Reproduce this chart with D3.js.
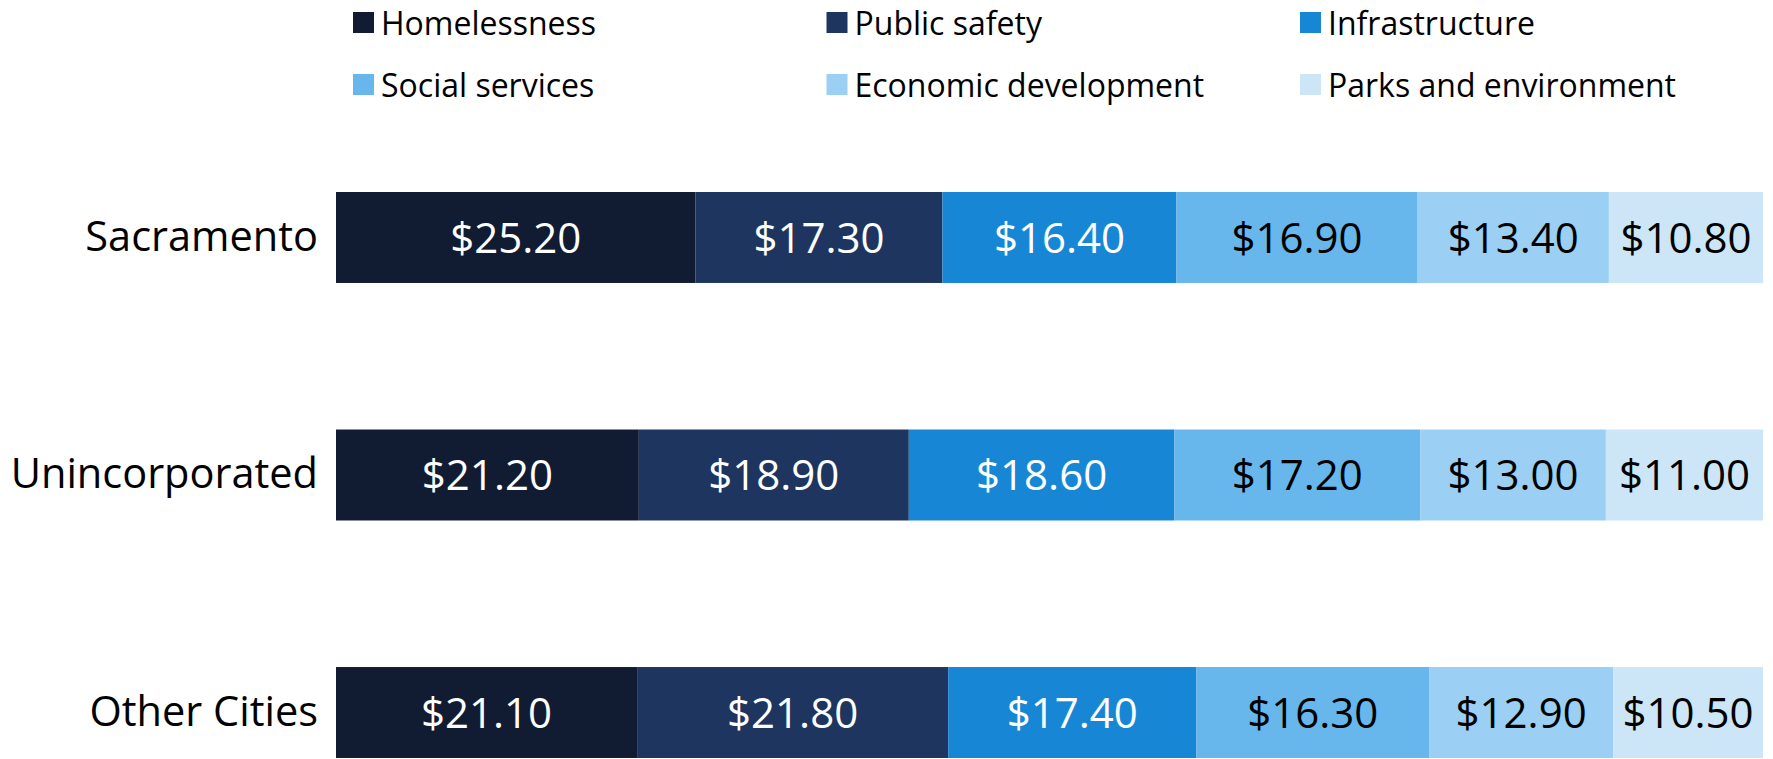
<!DOCTYPE html>
<html>
<head>
<meta charset="utf-8">
<script src="https://cdn.jsdelivr.net/npm/d3@7"></script>
<style>
    body { margin: 0; background: #fff; }
    svg { display: block; font-family: "Open Sans", sans-serif; }
</style>
</head>
<body>
<script>
"use strict";

const categories = ["Sacramento", "Unincorporated", "Other Cities"]
const seriesNames = ["Homelessness", "Public safety", "Infrastructure", "Social services", "Economic development", "Parks and environment"]

const homelessness = [25.2, 21.2, 21.1]
const publicSafety = [17.3, 18.9, 21.8]
const infrastructure = [16.4, 18.6, 17.4]
const socialServices = [16.9, 17.2, 16.3]
const economicDevelopment = [13.4, 13.0, 12.9]
const parksEnvironment = [10.8, 11.0, 10.5]

const seriesValues = [homelessness, publicSafety, infrastructure, socialServices, economicDevelopment, parksEnvironment]
const colors = ["#111c33", "#1e3560", "#1787d5", "#67b7ed", "#9bcff4", "#cce6f8"]
const labelColors = ["#fff", "#fff", "#fff", "#000", "#000", "#000"]

const measurements = {
    width: 1773,
    height: 759,
    plotLeft: 336,
    plotRight: 1763,
    plotTop: 192,
    plotBottom: 758
}

// rows for d3.stack
const rows = categories.map((c, i) => {
    let row = { category: c }
    seriesNames.forEach((s, j) => row[s] = seriesValues[j][i])
    return row
})

const stacked = d3.stack()
    .keys(seriesNames)
    .offset(d3.stackOffsetExpand)(rows)

const svg = d3.select("body").append("svg")
    .attr("width", measurements.width)
    .attr("height", measurements.height)

const x = d3.scaleLinear()
    .domain([0, 1])
    .range([measurements.plotLeft, measurements.plotRight])

const y = d3.scaleBand()
    .domain(categories)
    .range([measurements.plotTop, measurements.plotBottom])
    .paddingInner(0.617)
    .paddingOuter(0)

const color = d3.scaleOrdinal().domain(seriesNames).range(colors)

// bars
const layers = svg.selectAll(".layer")
    .data(stacked)
    .enter()
    .append("g")
        .attr("class", "layer")
        .attr("fill", d => color(d.key))

layers.selectAll("rect")
    .data(d => d)
    .enter()
    .append("rect")
        .attr("x", d => x(d[0]))
        .attr("y", d => y(d.data.category))
        .attr("width", d => x(d[1]) - x(d[0]))
        .attr("height", y.bandwidth())

// value labels
layers.each(function(layer, li) {
    d3.select(this).selectAll("text")
        .data(layer)
        .enter()
        .append("text")
            .attr("x", d => (x(d[0]) + x(d[1])) / 2)
            .attr("y", d => y(d.data.category) + y.bandwidth() / 2)
            .attr("dy", "0.36em")
            .attr("text-anchor", "middle")
            .attr("fill", labelColors[li])
            .style("font-size", "42px")
            .text(d => "$" + d.data[layer.key].toFixed(2))
})

// category axis
const yAxis = d3.axisLeft(y).tickSize(0).tickPadding(18)
const yG = svg.append("g")
    .attr("transform", "translate(" + measurements.plotLeft + ",0)")
    .call(yAxis)
yG.select(".domain").remove()
yG.selectAll("text")
    .style("font-size", "41.5px")
    .style("font-family", "'Open Sans', sans-serif")
    .attr("fill", "#000")

// legend
const legend = svg.selectAll(".legend")
    .data(seriesNames)
    .enter()
    .append("g")
        .attr("class", "legend")
        .attr("transform", (d, i) => "translate(" + (353 + (i % 3) * 473.5) + "," + (23 + Math.floor(i / 3) * 62) + ")")

legend.append("rect")
    .attr("x", 0)
    .attr("y", -11)
    .attr("width", 21)
    .attr("height", 21)
    .attr("fill", d => color(d))

legend.append("text")
    .attr("x", 28)
    .attr("y", 0)
    .attr("dy", "0.36em")
    .style("font-size", "32px")
    .text(d => d)
</script>
</body>
</html>
